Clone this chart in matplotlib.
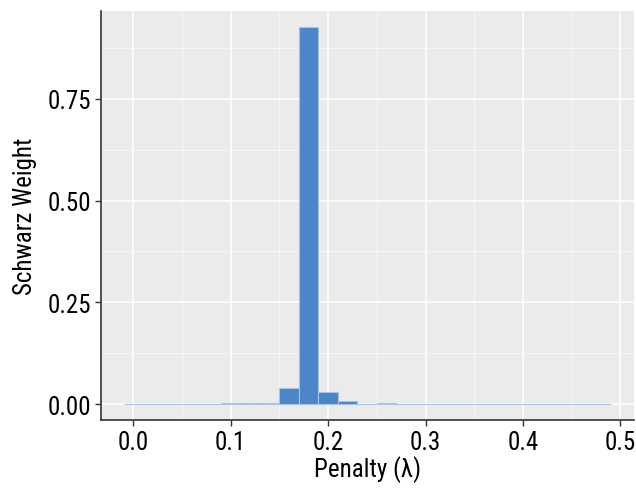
import matplotlib
matplotlib.use("Agg")
import matplotlib.pyplot as plt
from matplotlib.ticker import MultipleLocator

penalty = [0.00, 0.02, 0.04, 0.06, 0.08, 0.10, 0.12, 0.14, 0.16, 0.18, 0.20, 0.22, 0.24,
           0.26, 0.28, 0.30, 0.32, 0.34, 0.36, 0.38, 0.40, 0.42, 0.44, 0.46, 0.48]
weight = [0.001, 0.001, 0.001, 0.001, 0.001, 0.003, 0.003, 0.003, 0.039, 0.925, 0.030, 0.007, 0.001,
          0.002, 0.001, 0.001, 0.001, 0.001, 0.001, 0.001, 0.001, 0.001, 0.001, 0.001, 0.001]
xticks = [0.0, 0.1, 0.2, 0.3, 0.4, 0.5]
xticklabels = ["0.0", "0.1", "0.2", "0.3", "0.4", "0.5"]
yticks = [0.0, 0.25, 0.5, 0.75]
yticklabels = ["0.00", "0.25", "0.50", "0.75"]

plt.rcParams['font.family'] = ['Roboto Condensed', 'DejaVu Sans']
fig = plt.figure(figsize=(6.36, 4.89), dpi=100)
ax = fig.add_axes([0.159, 0.139, 0.838, 0.837])
ax.set_facecolor('#EBEBEB')
ax.bar(penalty, weight, width=0.02, color='#4A86C8', edgecolor='#A8C3E3', linewidth=0.8, zorder=3)

ax.set_xlim(-0.033, 0.514)
ax.set_ylim(-0.039, 0.966)
ax.set_xticks(xticks)
ax.set_xticklabels(xticklabels)
ax.set_yticks(yticks)
ax.set_yticklabels(yticklabels)
ax.xaxis.set_minor_locator(MultipleLocator(0.05))
ax.yaxis.set_minor_locator(MultipleLocator(0.125))
ax.grid(which='major', color='white', linewidth=1.1, zorder=0)
ax.grid(which='minor', color='white', linewidth=0.55, alpha=0.7, zorder=0)
ax.set_axisbelow(True)
ax.tick_params(which='minor', length=0)
ax.tick_params(which='major', length=4, width=1, color='#333333', labelsize=18, labelcolor='black', pad=3)
for s in ['top', 'right']:
    ax.spines[s].set_visible(False)
for s in ['left', 'bottom']:
    ax.spines[s].set_color('#333333')
    ax.spines[s].set_linewidth(1.2)
ax.set_xlabel('Penalty (λ)', fontsize=18, labelpad=1)
ax.set_ylabel('Schwarz Weight', fontsize=18, labelpad=8)
fig.savefig('out.png', dpi=100)
